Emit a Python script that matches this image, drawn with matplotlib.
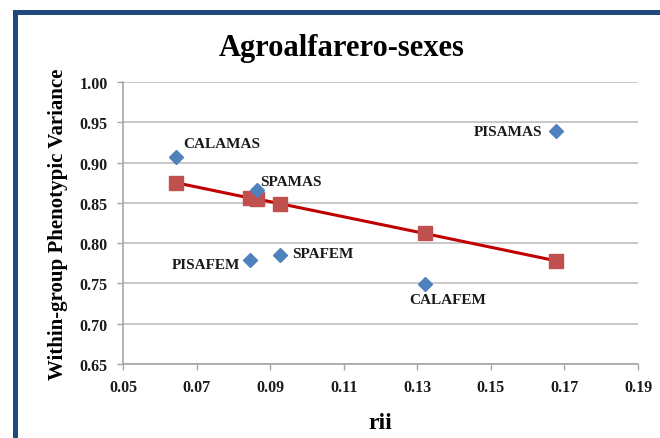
import matplotlib.pyplot as plt
from matplotlib.patches import Rectangle

# observed points
names = ['CALAMAS', 'SPAMAS', 'PISAFEM', 'SPAFEM', 'CALAFEM', 'PISAMAS']
rii = [0.0644, 0.0863, 0.0845, 0.0927, 0.1320, 0.1678]
variance = [0.907, 0.866, 0.779, 0.785, 0.749, 0.939]

# fitted line points (sorted by rii)
fit_rii = [0.0644, 0.0845, 0.0863, 0.0927, 0.1320, 0.1678]
fit_var = [0.875, 0.856, 0.855, 0.849, 0.812, 0.778]

# label offsets in pixels, with alignment
offsets = {
    'CALAMAS': (7, 13, 'left'),
    'SPAMAS': (4, 8, 'left'),
    'PISAFEM': (-10, -4, 'right'),
    'SPAFEM': (12, 2, 'left'),
    'CALAFEM': (-15, -15, 'left'),
    'PISAMAS': (-14, 0, 'right'),
}

plt.rcParams['font.family'] = 'Liberation Serif'
plt.rcParams['font.weight'] = 'bold'

fig = plt.figure(figsize=(6.6, 4.39), dpi=100)
ax = fig.add_axes([0.1864, 0.1686, 0.7803, 0.6423])

# blue frame, cropped on right and bottom
fig.patches.append(Rectangle((0.0225, -0.05), 1.2, 1.02, transform=fig.transFigure,
                             fill=False, edgecolor='#1F497D', linewidth=3.6))

ax.plot(fit_rii, fit_var, color='#C00000', lw=2.2, marker='s', ms=9.5,
        mfc='#C0504D', mec='#C0504D', zorder=3)
ax.plot(rii, variance, 'D', color='#4F81BD', ms=7, zorder=4, linestyle='none')

for n, x, y in zip(names, rii, variance):
    dx, dy, ha = offsets[n]
    ax.annotate(n, (x, y), xytext=(dx, dy), textcoords='offset pixels',
                ha=ha, va='center', fontsize=11, fontweight='bold', color='#1a1a1a')

ax.set_xlim(0.05, 0.19)
ax.set_ylim(0.65, 1.00)
ax.set_xticks([0.05, 0.07, 0.09, 0.11, 0.13, 0.15, 0.17, 0.19])
ax.set_yticks([0.65, 0.70, 0.75, 0.80, 0.85, 0.90, 0.95, 1.00])
ax.set_xticklabels(['%.2f' % v for v in ax.get_xticks()])
ax.set_yticklabels(['%.2f' % v for v in ax.get_yticks()])
ax.tick_params(labelsize=11.5, colors='#1a1a1a', length=4, width=1, pad=7)
ax.tick_params(axis='both', color='#A6A6A6')

ax.yaxis.grid(True, color='#BFBFBF', lw=1.2)
ax.set_axisbelow(True)
for s in ['top', 'right']:
    ax.spines[s].set_visible(False)
for s in ['left', 'bottom']:
    ax.spines[s].set_color('#A6A6A6')
    ax.spines[s].set_linewidth(1.2)

fig.text(0.518, 0.872, 'Agroalfarero-sexes', ha='center', va='baseline',
         fontsize=22, fontweight='bold')
ax.set_xlabel('rii', fontsize=17, fontweight='bold', labelpad=12)
ax.set_ylabel('Within-group Phenotypic Variance', fontsize=15, fontweight='bold', labelpad=8)

fig.savefig('out.png', dpi=100)
